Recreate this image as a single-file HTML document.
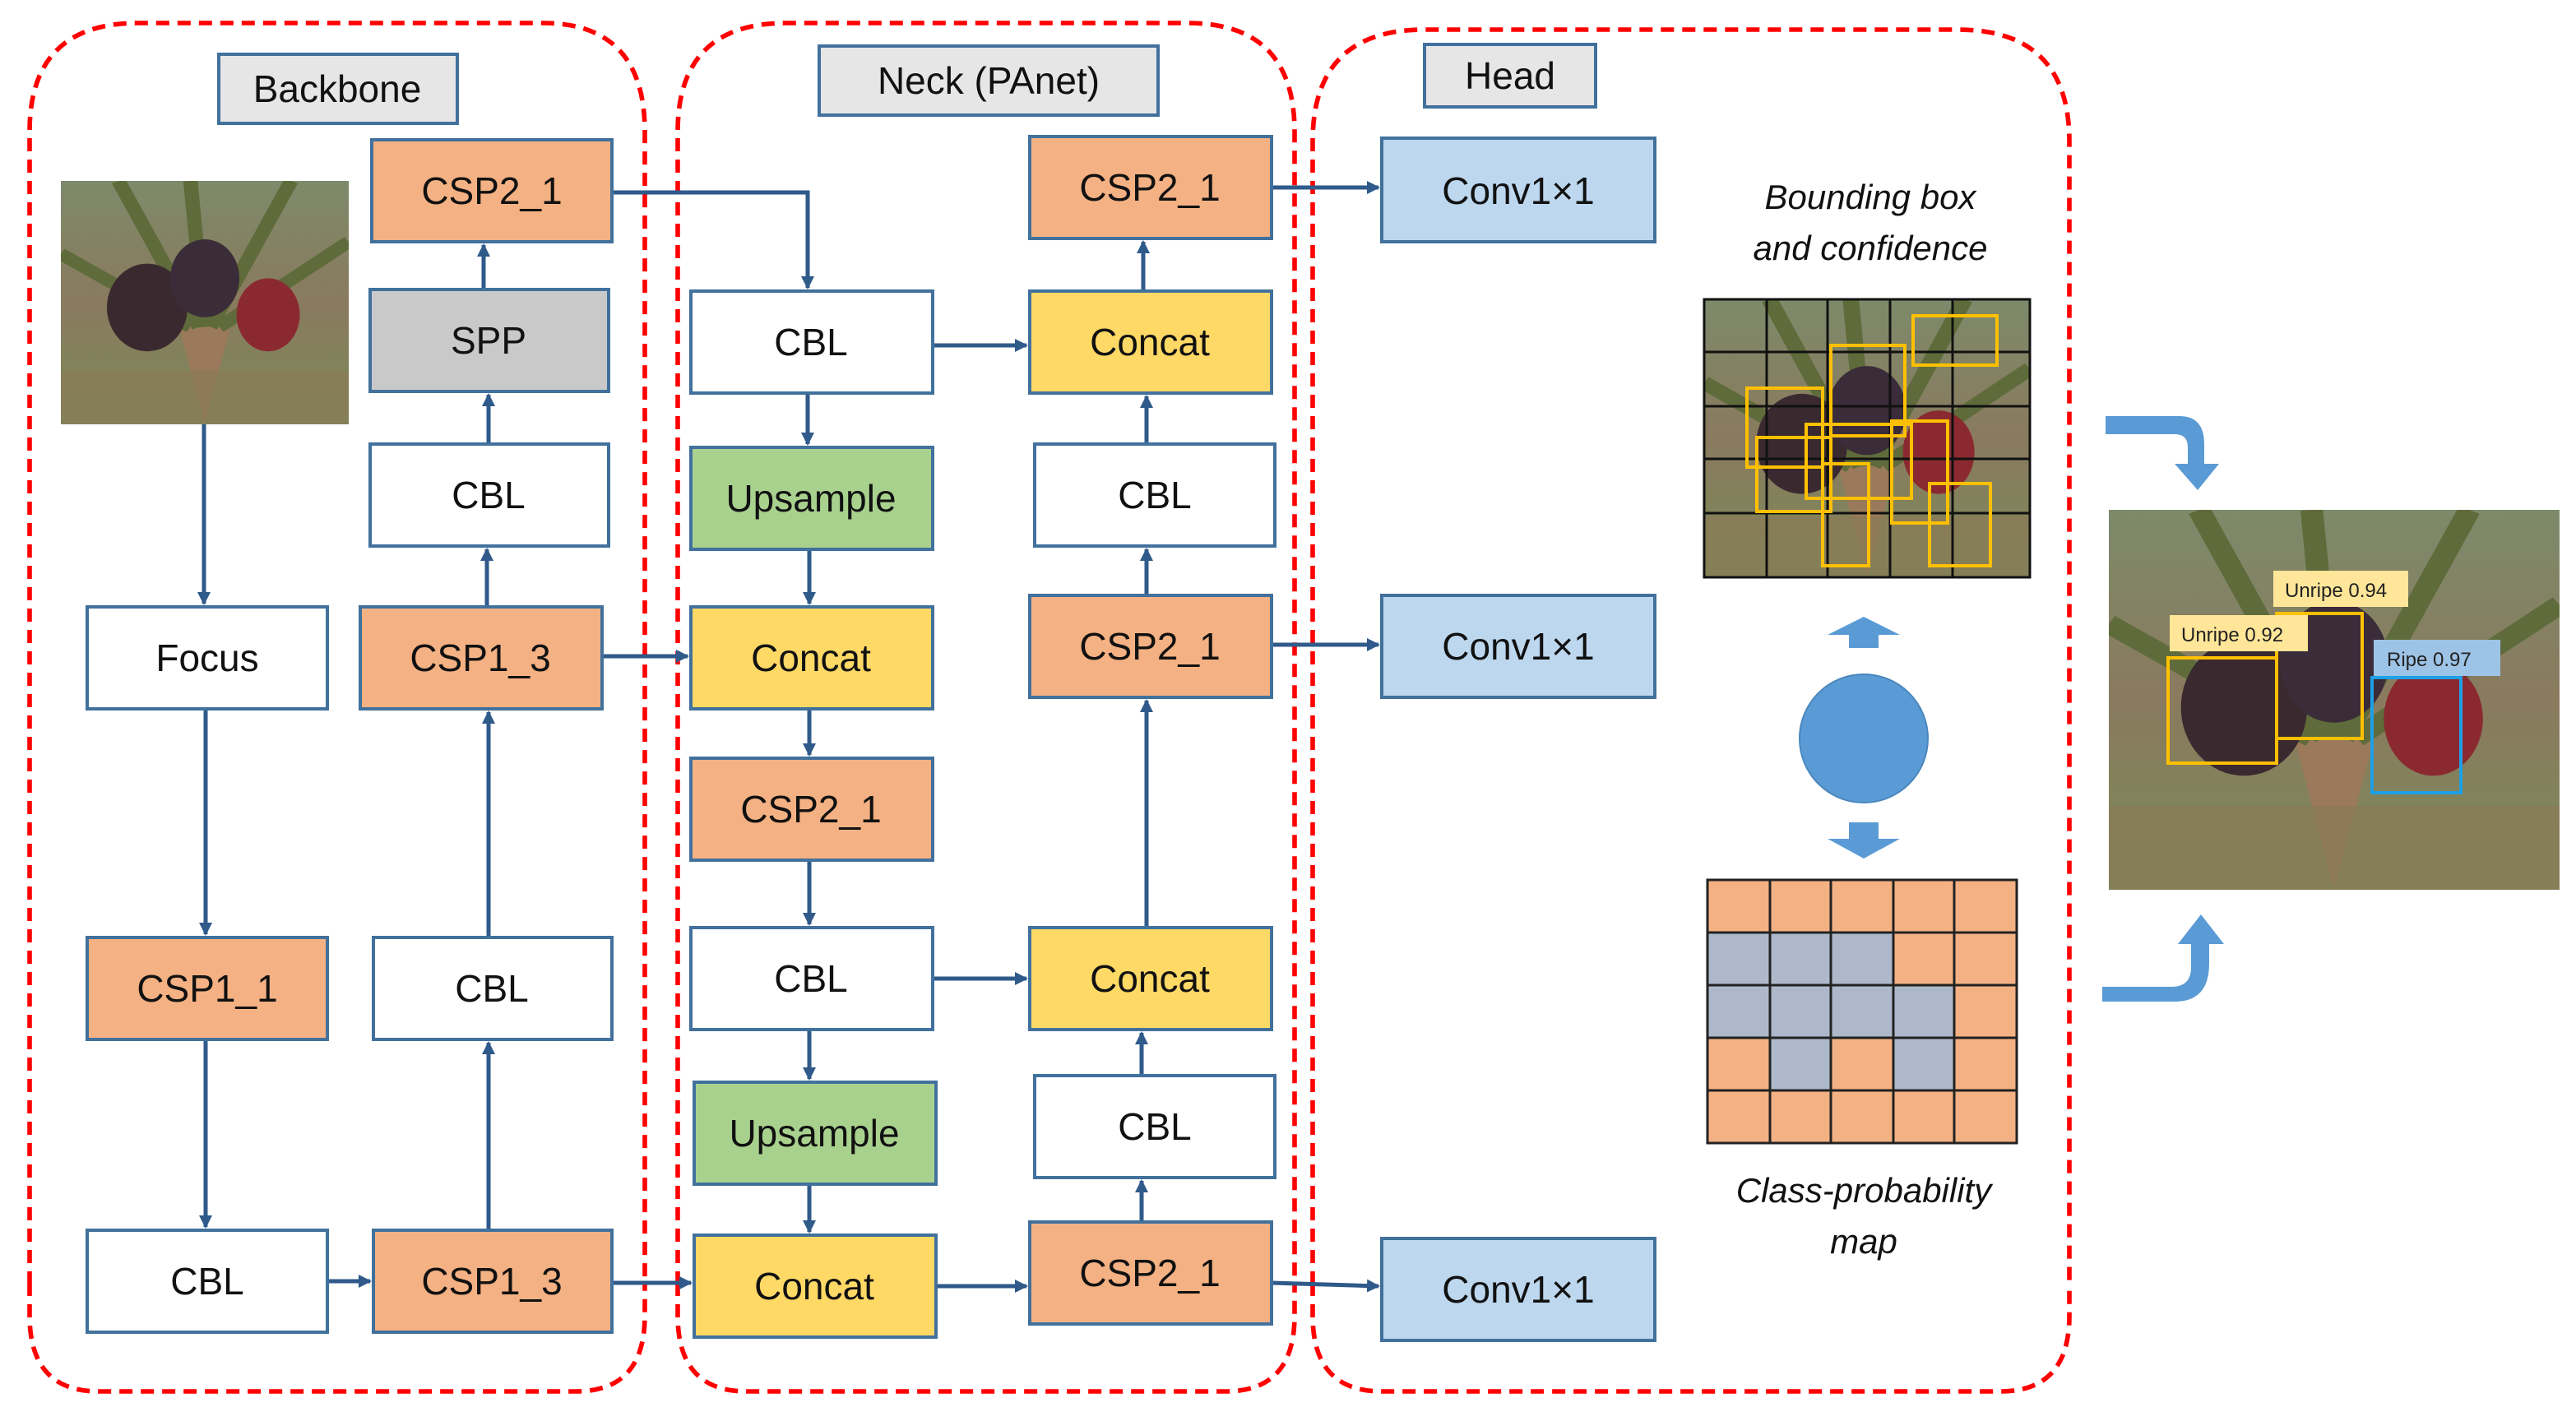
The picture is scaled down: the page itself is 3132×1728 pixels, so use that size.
<!DOCTYPE html>
<html><head><meta charset="utf-8"><style>
html,body{margin:0;padding:0;background:#fff;}
svg{display:block;}
text{font-family:"Liberation Sans",sans-serif;}
</style></head><body>
<svg width="3132" height="1728" viewBox="0 0 1566 864" xmlns="http://www.w3.org/2000/svg">
<defs>
<marker id="a" markerWidth="8" markerHeight="8" refX="7" refY="4" orient="auto" markerUnits="userSpaceOnUse"><path d="M0,0 L8,4 L0,8 z" fill="#2F5A8A"/></marker>
<linearGradient id="pg" x1="0" y1="0" x2="0" y2="1"><stop offset="0" stop-color="#7d8a6a"/><stop offset="0.5" stop-color="#8a7a5e"/><stop offset="1" stop-color="#7a8a5a"/></linearGradient>
<g id="palm">
<rect x="0" y="0" width="100" height="100" fill="url(#pg)"/>
<path d="M50,100 L40,55 L60,55 z" fill="#9a7a5a"/>
<path d="M45,0 L50,60 M20,0 L48,60 M80,0 L52,60 M0,30 L45,60 M100,25 L55,60" stroke="#5f6b3a" stroke-width="5" fill="none"/>
<ellipse cx="30" cy="52" rx="14" ry="18" fill="#3a2a30"/>
<ellipse cx="50" cy="40" rx="12" ry="16" fill="#3a2c38"/>
<ellipse cx="72" cy="55" rx="11" ry="15" fill="#8a2a30"/>
<rect x="0" y="78" width="100" height="22" fill="#8a7a55" opacity="0.7"/>
</g>
</defs>

<!-- dashed regions -->
<g fill="none" stroke="#FF0000" stroke-width="2.8" stroke-dasharray="8,5">
<path d="M18,846 L18,80 Q18,14 84,14 L330,14 Q392,14 392,80 L392,846" />
<path d="M18,846 L392,846" stroke-dasharray="0"/>
<path d="M412,846 L412,80 Q412,14 478,14 L722,14 Q787,14 787,80 L787,846"/>
<path d="M798,846 L798,86 Q798,18 866,18 L1190,18 Q1258,18 1258,86 L1258,846"/>
</g>
<!-- redo bottoms as rounded -->
<rect x="-5" y="780" width="1300" height="80" fill="#fff"/>
<g fill="none" stroke="#FF0000" stroke-width="2.8" stroke-dasharray="8,5">
<path d="M18,780 L18,800 Q18,846 60,846 L350,846 Q392,846 392,800 L392,780"/>
<path d="M412,780 L412,800 Q412,846 454,846 L745,846 Q787,846 787,800 L787,780"/>
<path d="M798,780 L798,800 Q798,846 840,846 L1216,846 Q1258,846 1258,800 L1258,780"/>
</g>

<!-- connectors -->
<g stroke="#2F5A8A" stroke-width="2.5" fill="none" marker-end="url(#a)">
<path d="M124,258 L124,367"/>
<path d="M125,431 L125,568"/>
<path d="M125,632 L125,746"/>
<path d="M199,779 L225,779"/>
<path d="M297,748 L297,634"/>
<path d="M297,570 L297,433"/>
<path d="M296,369 L296,334"/>
<path d="M297,270 L297,240"/>
<path d="M294,176 L294,149"/>
<path d="M372,117 L491,117 L491,175"/>
<path d="M366,399 L418,399"/>
<path d="M372,780 L420,780"/>
<path d="M491,239 L491,270"/>
<path d="M492,334 L492,367"/>
<path d="M492,431 L492,459"/>
<path d="M492,523 L492,562"/>
<path d="M492,626 L492,656"/>
<path d="M492,720 L492,749"/>
<path d="M567,210 L624,210"/>
<path d="M567,595 L624,595"/>
<path d="M569,782 L624,782"/>
<path d="M694,743 L694,718"/>
<path d="M694,654 L694,628"/>
<path d="M697,564 L697,426"/>
<path d="M697,362 L697,334"/>
<path d="M697,270 L697,241"/>
<path d="M695,177 L695,147"/>
<path d="M773,114 L838,114"/>
<path d="M773,392 L838,392"/>
<path d="M773,780 L838,782"/>
</g>

<!-- boxes -->
<g stroke="#41719C" stroke-width="2" font-size="23" text-anchor="middle">
<rect x="133" y="33" width="145" height="42" fill="#E7E6E6"/>
<rect x="498" y="28" width="206" height="42" fill="#E7E6E6"/>
<rect x="866" y="27" width="104" height="38" fill="#E7E6E6"/>

<rect x="53" y="369" width="146" height="62" fill="#fff"/>
<rect x="53" y="570" width="146" height="62" fill="#F4B183"/>
<rect x="53" y="748" width="146" height="62" fill="#fff"/>

<rect x="226" y="85" width="146" height="62" fill="#F4B183"/>
<rect x="225" y="176" width="145" height="62" fill="#C9C9C9"/>
<rect x="225" y="270" width="145" height="62" fill="#fff"/>
<rect x="219" y="369" width="147" height="62" fill="#F4B183"/>
<rect x="227" y="570" width="145" height="62" fill="#fff"/>
<rect x="227" y="748" width="145" height="62" fill="#F4B183"/>

<rect x="420" y="177" width="147" height="62" fill="#fff"/>
<rect x="420" y="272" width="147" height="62" fill="#A9D18E"/>
<rect x="420" y="369" width="147" height="62" fill="#FFD966"/>
<rect x="420" y="461" width="147" height="62" fill="#F4B183"/>
<rect x="420" y="564" width="147" height="62" fill="#fff"/>
<rect x="422" y="658" width="147" height="62" fill="#A9D18E"/>
<rect x="422" y="751" width="147" height="62" fill="#FFD966"/>

<rect x="626" y="83" width="147" height="62" fill="#F4B183"/>
<rect x="626" y="177" width="147" height="62" fill="#FFD966"/>
<rect x="629" y="270" width="146" height="62" fill="#fff"/>
<rect x="626" y="362" width="147" height="62" fill="#F4B183"/>
<rect x="626" y="564" width="147" height="62" fill="#FFD966"/>
<rect x="629" y="654" width="146" height="62" fill="#fff"/>
<rect x="626" y="743" width="147" height="62" fill="#F4B183"/>

<rect x="840" y="84" width="166" height="63" fill="#BDD7EE"/>
<rect x="840" y="362" width="166" height="62" fill="#BDD7EE"/>
<rect x="840" y="753" width="166" height="62" fill="#BDD7EE"/>
</g>
<g font-size="23" text-anchor="middle" fill="#111">
<text x="205" y="62">Backbone</text>
<text x="601" y="57">Neck (PAnet)</text>
<text x="918" y="54">Head</text>
<text x="126" y="408">Focus</text>
<text x="126" y="609">CSP1_1</text>
<text x="126" y="787">CBL</text>
<text x="299" y="124">CSP2_1</text>
<text x="297" y="215">SPP</text>
<text x="297" y="309">CBL</text>
<text x="292" y="408">CSP1_3</text>
<text x="299" y="609">CBL</text>
<text x="299" y="787">CSP1_3</text>
<text x="493" y="216">CBL</text>
<text x="493" y="311">Upsample</text>
<text x="493" y="408">Concat</text>
<text x="493" y="500">CSP2_1</text>
<text x="493" y="603">CBL</text>
<text x="495" y="697">Upsample</text>
<text x="495" y="790">Concat</text>
<text x="699" y="122">CSP2_1</text>
<text x="699" y="216">Concat</text>
<text x="702" y="309">CBL</text>
<text x="699" y="401">CSP2_1</text>
<text x="699" y="603">Concat</text>
<text x="702" y="693">CBL</text>
<text x="699" y="782">CSP2_1</text>
<text x="923" y="124">Conv1×1</text>
<text x="923" y="401">Conv1×1</text>
<text x="923" y="792">Conv1×1</text>
</g>

<!-- input image -->
<svg x="37" y="110" width="175" height="148" viewBox="0 0 100 100" preserveAspectRatio="none"><use href="#palm"/></svg>

<!-- head right side -->
<g font-size="21" font-style="italic" text-anchor="middle" fill="#111">
<text x="1137" y="127">Bounding box</text>
<text x="1137" y="158">and confidence</text>
<text x="1133" y="731">Class-probability</text>
<text x="1133" y="762">map</text>
</g>
<svg x="1036" y="182" width="198" height="169" viewBox="0 0 100 100" preserveAspectRatio="none"><use href="#palm"/></svg>
<g stroke="#111" stroke-width="1.5" fill="none">
<rect x="1036" y="182" width="198" height="169"/>
<path d="M1074,182V351M1111,182V351M1149,182V351M1187,182V351M1036,214H1234M1036,247H1234M1036,279H1234M1036,312H1234"/>
</g>
<g stroke="#FFC000" stroke-width="2" fill="none">
<rect x="1163" y="192" width="51" height="30"/>
<rect x="1113" y="210" width="45" height="55"/>
<rect x="1062" y="236" width="46" height="48"/>
<rect x="1068" y="266" width="45" height="45"/>
<rect x="1098" y="258" width="64" height="45"/>
<rect x="1108" y="282" width="28" height="62"/>
<rect x="1150" y="256" width="34" height="62"/>
<rect x="1173" y="294" width="37" height="50"/>
</g>
<path d="M1133,375 L1155,386 L1142,386 L1142,394 L1124,394 L1124,386 L1111,386 z" fill="#5B9BD5"/>
<circle cx="1133" cy="449" r="39" fill="#5B9BD5" stroke="#4a86bd" stroke-width="1"/>
<path d="M1124,500 L1142,500 L1142,510 L1155,510 L1133,522 L1111,510 L1124,510 z" fill="#5B9BD5"/>
<g stroke="#222" stroke-width="1.5">
<rect x="1038" y="535" width="188" height="160" fill="#F4B183"/>
<rect x="1038" y="567" width="113" height="32" fill="#ADB9CA"/>
<rect x="1038" y="599" width="150" height="32" fill="#ADB9CA"/>
<rect x="1076" y="631" width="37" height="32" fill="#ADB9CA"/>
<rect x="1151" y="631" width="37" height="32" fill="#ADB9CA"/>
<path fill="none" d="M1076,535V695M1113,535V695M1151,535V695M1188,535V695M1038,567H1226M1038,599H1226M1038,631H1226M1038,663H1226"/>
</g>

<!-- curved arrows -->
<path d="M1280,253 L1325,253 Q1340,253 1340,270 L1340,282 L1349,282 L1336,298 L1322,282 L1330,282 L1330,272 Q1330,264 1322,264 L1280,264 z" fill="#5B9BD5"/>
<path d="M1278,600 L1320,600 Q1332,600 1332,588 L1332,574 L1324,574 L1338,556 L1352,574 L1343,574 L1343,586 Q1343,609 1322,609 L1278,609 z" fill="#5B9BD5"/>
<!-- output image -->
<svg x="1282" y="310" width="274" height="231" viewBox="0 0 100 100" preserveAspectRatio="none"><use href="#palm"/></svg>
<g fill="none" stroke-width="2">
<rect x="1318" y="400" width="66" height="64" stroke="#FFC000"/>
<rect x="1384" y="373" width="52" height="76" stroke="#FFC000"/>
<rect x="1442" y="412" width="54" height="70" stroke="#1EA0E6"/>
</g>
<rect x="1382" y="347" width="82" height="22" fill="#FFE699"/>
<rect x="1319" y="374" width="84" height="22" fill="#FFE699"/>
<rect x="1443" y="389" width="77" height="22" fill="#9DC3E6"/>
<g font-size="12" fill="#222">
<text x="1389" y="363">Unripe 0.94</text>
<text x="1326" y="390">Unripe 0.92</text>
<text x="1451" y="405">Ripe 0.97</text>
</g>
</svg>
</body></html>
